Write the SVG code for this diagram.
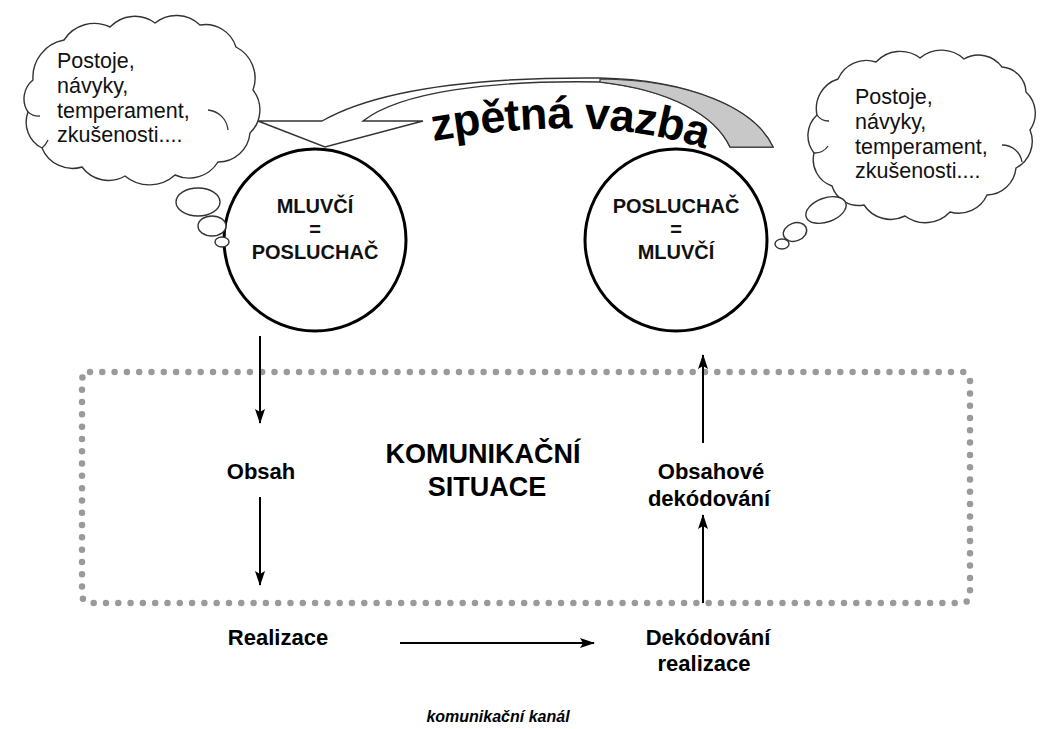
<svg xmlns="http://www.w3.org/2000/svg" width="1045" height="729" viewBox="0 0 1045 729">
<style>
.cloud{fill:#fff;stroke:#333;stroke-width:1.4}
.curl{fill:none;stroke:#333;stroke-width:1.3}
.ct{font-family:"Liberation Sans",Arial,sans-serif;font-size:21.5px;fill:#111}
.node{fill:#fff;stroke:#000;stroke-width:3}
.nt{font-family:"Liberation Sans",Arial,sans-serif;font-size:20px;font-weight:bold;fill:#111;text-anchor:middle}
.lbl{font-family:"Liberation Sans",Arial,sans-serif;font-size:22px;font-weight:bold;fill:#000;text-anchor:middle}
.big{font-family:"Liberation Sans",Arial,sans-serif;font-size:27px;font-weight:bold;fill:#000;text-anchor:middle}
.conn{stroke:#000;stroke-width:2;fill:none}
</style>
<defs>
<marker id="ah" markerUnits="userSpaceOnUse" markerWidth="16" markerHeight="12" refX="14" refY="5" orient="auto">
<path d="M0,0 L15,5 L0,10 L3,5 Z" fill="#000"/>
</marker>
<path id="arcText" d="M433,141 Q600,112 708,150"/>
</defs>
<rect width="1045" height="729" fill="#fff"/>

<g id="situation-frame">
<rect x="82" y="372" width="888" height="231" rx="8" fill="none" stroke="#9a9a9a" stroke-width="6.5" stroke-linecap="round" stroke-dasharray="0 12.3"/>
<text class="big" x="483" y="463">KOMUNIKAČNÍ</text>
<text class="big" x="487" y="496">SITUACE</text>
</g>

<g id="cloud-left">
<path class="cloud" d="M33,80 A38,38 0 0 1 64,40 A36,36 0 0 1 110,27 A34,34 0 0 1 155,23 A34,34 0 0 1 200,25 A32,32 0 0 1 236,47 A35,35 0 0 1 253,90 A32,32 0 0 1 250,133 A32,32 0 0 1 218,162 A34,34 0 0 1 175,175 A38,38 0 0 1 125,176 A33,33 0 0 1 82,167 A33,33 0 0 1 42,148 A29,29 0 0 1 28,112 A24,24 0 0 1 33,80 Z"/>
<path class="curl" d="M208,110 A22,22 0 0 1 228,130"/>
<path class="curl" d="M42,148 A20,20 0 0 0 48,140"/>
<path class="curl" d="M28,112 A16,16 0 0 0 40,116"/>
<text class="ct" x="57" y="68">Postoje,</text>
<text class="ct" x="57" y="93">návyky,</text>
<text class="ct" x="57" y="118">temperament,</text>
<text class="ct" x="57" y="142">zkušenosti....</text>
</g>

<g id="cloud-right">
<path class="cloud" d="M817,115 A31,31 0 0 1 838,79 A31,31 0 0 1 876,62 A33,33 0 0 1 920,58 A33,33 0 0 1 964,59 A29,29 0 0 1 1002,67 A26,26 0 0 1 1026,92 A29,29 0 0 1 1030,130 A30,30 0 0 1 1016,168 A30,30 0 0 1 987,195 A31,31 0 0 1 950,212 A34,34 0 0 1 905,216 A32,32 0 0 1 864,205 A28,28 0 0 1 832,186 A28,28 0 0 1 814,153 A28,28 0 0 1 817,115 Z"/>
<path class="curl" d="M1002,145 A20,20 0 0 1 1022,162"/>
<path class="curl" d="M814,153 A16,16 0 0 0 828,146"/>
<path class="curl" d="M817,115 A14,14 0 0 0 829,121"/>
<text class="ct" x="855" y="104">Postoje,</text>
<text class="ct" x="855" y="129">návyky,</text>
<text class="ct" x="855" y="154">temperament,</text>
<text class="ct" x="855" y="178">zkušenosti....</text>
</g>

<g id="speaker">
<circle class="node" cx="315" cy="240" r="91"/>
<text class="nt" x="315" y="213">MLUVČÍ</text>
<text class="nt" x="315" y="236">=</text>
<text class="nt" x="315" y="259">POSLUCHAČ</text>
</g>

<g id="listener">
<circle class="node" cx="676" cy="240" r="91"/>
<text class="nt" x="676" y="213">POSLUCHAČ</text>
<text class="nt" x="676" y="236">=</text>
<text class="nt" x="676" y="259">MLUVČÍ</text>
</g>

<g id="bubbles">
<ellipse class="cloud" cx="198" cy="202" rx="22" ry="14"/>
<ellipse class="cloud" cx="212" cy="226" rx="14" ry="10"/>
<ellipse class="cloud" cx="222" cy="242" rx="7" ry="5"/>
<ellipse class="cloud" cx="826" cy="210" rx="21" ry="12" transform="rotate(-20 826 210)"/>
<ellipse class="cloud" cx="795" cy="232" rx="12" ry="9" transform="rotate(-20 795 232)"/>
<ellipse class="cloud" cx="782" cy="244" rx="7" ry="5"/>
</g>

<g id="feedback">
<path d="M258,121 L322,121 C380,88 480,77 600,78 C690,80 755,108 773,147 L730,147 C715,115 670,90 600,82 C490,80 400,92 363,121 L423,121 L325,147 Z" fill="#fff" stroke="#333" stroke-width="1.4" stroke-linejoin="miter"/>
<path d="M600,79 C690,80 755,108 773,147 L730,147 C715,115 670,90 600,82 Z" fill="#c8c8c8" stroke="#333" stroke-width="1.2"/>
<text font-family="'Liberation Sans',Arial,sans-serif" font-size="45px" font-weight="900" fill="#000" letter-spacing="-0.5"><textPath href="#arcText">zpětná vazba</textPath></text>
</g>

<g id="labels">
<text class="lbl" x="261" y="479">Obsah</text>
<text class="lbl" x="278" y="645">Realizace</text>
<text class="lbl" x="711" y="479">Obsahové</text>
<text class="lbl" x="709" y="506">dekódování</text>
<text class="lbl" x="708" y="645">Dekódování</text>
<text class="lbl" x="704" y="671">realizace</text>
<text x="498" y="722" font-family="'Liberation Sans',Arial,sans-serif" font-size="16px" font-weight="bold" font-style="italic" text-anchor="middle" fill="#000">komunikační kanál</text>
</g>

<g id="connectors">
<line class="conn" x1="260" y1="336" x2="260" y2="423" marker-end="url(#ah)"/>
<line class="conn" x1="260" y1="497" x2="260" y2="585" marker-end="url(#ah)"/>
<line class="conn" x1="703" y1="443" x2="703" y2="355" marker-end="url(#ah)"/>
<line class="conn" x1="703" y1="603" x2="703" y2="515" marker-end="url(#ah)"/>
<line class="conn" x1="400" y1="643" x2="594" y2="643" stroke-width="2.6" marker-end="url(#ah)"/>
</g>
</svg>
